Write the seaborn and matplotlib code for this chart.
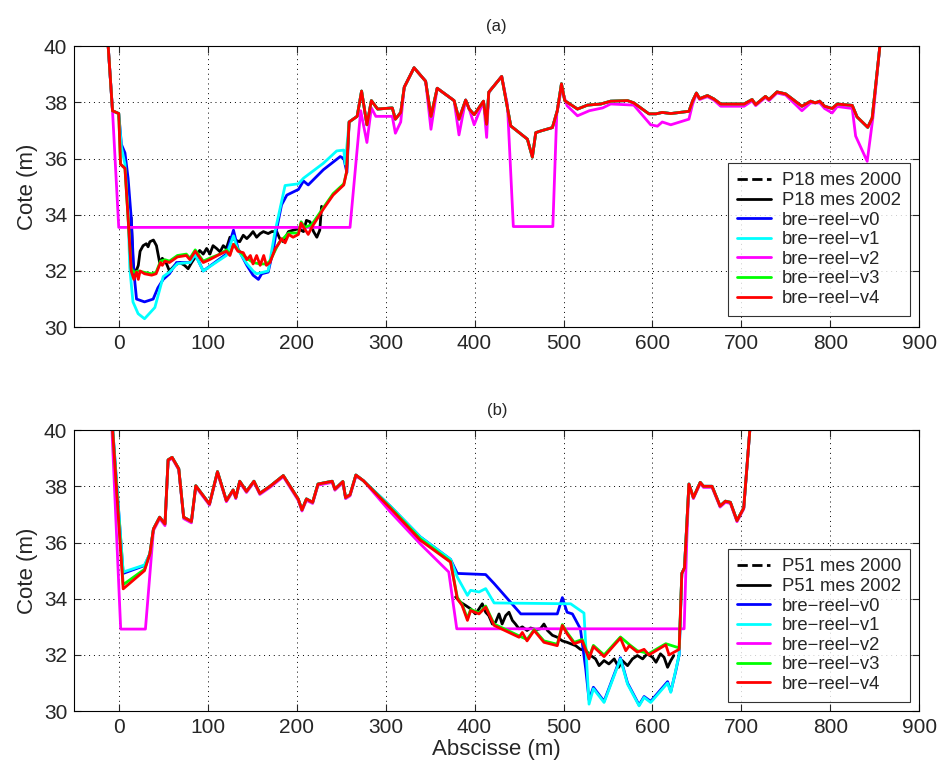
import matplotlib
matplotlib.use("Agg")
import matplotlib.pyplot as plt
import seaborn as sns

# ---------------- panel (a) : profil P18 ----------------
a_mes2002_x = [14, 16, 18, 22, 24, 27.4, 31, 33, 35, 39, 42.4, 46, 49, 53.7, 57, 63, 68.7, 74, 78, 82,
               87.5, 91, 95, 98.8, 102.5, 106, 110, 114, 117.5, 121, 125, 130.7, 136, 140, 144, 147.6,
               151, 155, 159, 162.6, 168, 172, 177.6, 181, 185, 190.8, 196, 202, 207.7, 211, 215, 219,
               222.7, 226, 228]
a_mes2002_y = [33.9, 32.3, 31.85, 32.2, 32.7, 32.9, 32.97, 32.86, 33.04, 33.1, 32.9, 32.3, 32.45, 32.26,
               32.0, 32.2, 32.3, 32.2, 32.08, 32.3, 32.56, 32.73, 32.6, 32.8, 32.6, 32.9, 32.8, 32.68,
               32.9, 32.8, 33.2, 33.1, 33.04, 33.27, 33.15, 33.27, 33.4, 33.2, 33.33, 33.4, 33.33, 33.4,
               33.4, 33.15, 33.04, 33.4, 33.45, 33.5, 33.4, 33.8, 33.75, 33.4, 33.2, 33.45, 34.3]

# right-hand part shared by v0, v1, v3, v4
a_right_x = [259, 268, 273, 279, 284, 291, 307.5, 311, 317, 321, 332, 345, 351, 358, 377, 382.5, 390,
             394, 399.6, 410, 413.6, 416, 430.5, 440.7, 459.4, 465, 468.8, 474.4, 487.5, 493, 497.7,
             501.4, 515.7, 527, 542, 553, 572, 579, 596, 604, 611, 620.6, 641, 645, 649.4, 653, 661.8,
             669, 676.7, 703, 712, 716, 727, 731, 740, 749.7, 768, 777.8, 783, 788, 793.5, 802, 807.7,
             824.6, 830, 842, 847, 855, 860]
a_right_y = [37.3, 37.5, 38.4, 37.2, 38.06, 37.76, 37.8, 37.4, 37.64, 38.54, 39.23, 38.75, 37.5, 38.5,
             38.06, 37.4, 38.08, 37.76, 37.56, 38.04, 37.22, 38.36, 38.92, 37.16, 36.69, 36.05, 36.92,
             36.98, 37.1, 37.7, 38.66, 38.06, 37.76, 37.9, 37.94, 38.04, 38.06, 37.98, 37.59, 37.59,
             37.64, 37.6, 37.68, 38.04, 38.33, 38.13, 38.24, 38.12, 37.94, 37.94, 38.1, 37.92, 38.21,
             38.1, 38.37, 38.3, 37.86, 38.04, 37.98, 38.04, 37.86, 37.78, 37.94, 37.89, 37.48, 37.11,
             37.44, 39.8, 41.5]

a_v0_x = [-14, -7, 0, 3, 7, 10.5, 14, 17, 20, 29, 38.7, 44, 50, 57, 65, 80, 86, 95, 121, 129, 134, 144,
          151, 157, 160.7, 168, 174, 177.6, 183, 189, 202, 207.7, 213, 230, 249, 253, 256.5]
a_v0_y = [41, 37.7, 37.6, 36.5, 36.2, 35.3, 33.9, 31.96, 31.0, 30.9, 31.0, 31.4, 31.7, 31.9, 32.3, 32.3,
          32.6, 32.0, 32.6, 33.45, 32.8, 32.2, 31.85, 31.7, 31.9, 31.96, 32.8, 33.5, 34.35, 34.7, 34.9,
          35.2, 35.06, 35.6, 36.07, 36.0, 35.5]

a_v1_x = [-14, -7, 0, 3, 7, 10.5, 12.4, 16, 21.8, 29, 40.6, 50, 57, 66, 80, 86, 95, 121, 129, 134, 144,
          151, 155, 168, 175.7, 187, 202, 207.7, 230, 245, 253, 254.6]
a_v1_y = [41, 37.7, 37.6, 36.4, 35.8, 34.0, 32.1, 30.9, 30.48, 30.3, 30.7, 31.8, 31.96, 32.26, 32.3,
          32.58, 32.0, 32.55, 33.25, 32.75, 32.26, 32.0, 31.9, 32.0, 33.4, 35.04, 35.1, 35.3, 35.83,
          36.27, 36.3, 35.8]

a_v2_x = [-14, -7, 0, 260, 272, 279, 284, 289, 307.5, 311, 317, 321, 332, 345, 351, 358, 377, 382.5,
          390, 394, 399.6, 410, 413.6, 416, 430.5, 437, 443.6, 488, 492.4, 497.7, 504, 515.7, 529, 544,
          553, 579, 598, 605.6, 611, 620.6, 641, 645, 649.4, 653, 661.8, 669, 676.7, 703, 712, 716,
          727, 731, 740, 749.7, 768, 777.8, 788, 793.5, 802, 807.7, 824.6, 828.4, 841.4, 848, 855, 860]
a_v2_y = [41, 37.7, 33.55, 33.55, 37.7, 36.57, 37.8, 37.5, 37.5, 36.9, 37.3, 38.54, 39.23, 38.75, 37.04,
          38.5, 38.06, 36.84, 38.08, 37.76, 37.2, 38.04, 36.75, 38.36, 38.92, 37.9, 33.58, 33.58, 37.58,
          38.5, 37.88, 37.52, 37.7, 37.8, 37.94, 37.9, 37.2, 37.15, 37.3, 37.2, 37.4, 37.92, 38.3, 38.1,
          38.2, 38.08, 37.86, 37.86, 38.05, 37.88, 38.17, 38.06, 38.33, 38.26, 37.7, 37.98, 37.98,
          37.78, 37.62, 37.85, 37.78, 36.8, 35.9, 37.5, 39.8, 41.5]

a_v3_x = [-14, -7, 0, 2, 7, 10.5, 14, 17, 22, 29, 37, 42, 47, 52, 57, 66, 76, 80, 86, 95, 102, 114, 121,
          125, 129, 134, 144, 151, 159, 166, 170, 180, 191, 202, 205, 209, 217, 230, 241, 253, 256]
a_v3_y = [41, 37.7, 37.6, 35.8, 35.65, 33.9, 32.1, 31.95, 32.0, 31.95, 31.9, 31.95, 32.35, 32.4, 32.35,
          32.55, 32.6, 32.45, 32.75, 32.35, 32.45, 32.6, 32.75, 32.6, 32.95, 32.75, 32.45, 32.3, 32.25,
          32.25, 32.35, 33.0, 33.35, 33.35, 33.75, 33.55, 33.65, 34.25, 34.75, 35.1, 35.5]

a_v4_x = [-14, -7, 0, 2, 7, 10.5, 14, 17, 20, 22, 24, 29, 37, 42, 47, 49, 52, 57, 66, 76, 80, 86, 95,
          102, 114, 121, 125, 129, 134, 140, 144, 148, 151, 155, 159, 163, 166, 170, 176, 180, 183, 187,
          191, 196, 202, 205, 209, 213, 217, 230, 241, 253, 256]
a_v4_y = [41, 37.7, 37.6, 35.8, 35.65, 33.9, 32.0, 31.7, 31.96, 31.7, 32.0, 31.9, 31.85, 31.9, 32.3,
          32.2, 32.35, 32.3, 32.5, 32.55, 32.4, 32.7, 32.3, 32.4, 32.6, 32.7, 32.55, 32.95, 32.7, 32.65,
          32.4, 32.55, 32.25, 32.55, 32.2, 32.55, 32.2, 32.3, 32.8, 32.97, 33.15, 33.0, 33.3, 33.2,
          33.3, 33.7, 33.5, 33.3, 33.55, 34.2, 34.7, 35.06, 35.5]

# ---------------- panel (b) : profil P51 ----------------
b_mes2002_x = [378.7, 384, 390, 395.6, 401, 405, 408.7, 412.5, 416, 420, 423.7, 427.5, 431, 435, 438.7,
               442.5, 446, 450, 453.7, 459, 463, 468.7, 474, 478, 482, 487.5, 493, 498.7, 504, 508,
               513.7, 519, 525, 530.6, 536, 540, 545.6, 551, 557, 562, 566, 572, 577.5, 583, 589, 594,
               600, 604, 609, 613, 617, 620.6, 624]
b_mes2002_y = [34.06, 33.88, 33.76, 33.64, 33.46, 33.64, 33.82, 33.52, 33.4, 33.1, 33.17, 33.46, 33.1,
               33.4, 33.52, 33.23, 33.1, 32.93, 33.0, 32.87, 32.96, 32.9, 32.93, 33.1, 32.87, 32.7,
               32.63, 32.5, 32.45, 32.4, 32.33, 32.2, 32.15, 31.98, 31.86, 31.62, 31.8, 31.68, 31.86,
               31.56, 31.8, 31.62, 31.86, 31.98, 31.86, 32.04, 31.92, 31.74, 32.04, 31.92, 31.56, 31.8,
               31.98]

# left part (x 35..275) and right part (x 633..712) shared by v0, v1, v3, v4
b_left_x = [35, 39, 46, 52, 55.5, 60, 67.5, 73, 81.7, 86.6, 102, 111, 121, 128.6, 131.6, 136, 143.6,
            152, 158.6, 170, 185, 201.7, 206, 211, 218, 224, 240, 243, 252, 255, 260, 266.6, 275]
b_left_y = [35.6, 36.48, 36.9, 36.66, 38.94, 39.03, 38.62, 36.9, 36.75, 38.02, 37.37, 38.52, 37.49,
            37.87, 37.6, 38.18, 37.82, 38.18, 37.75, 38.0, 38.38, 37.55, 37.16, 37.55, 37.43, 38.08,
            38.18, 37.9, 38.17, 37.6, 37.7, 38.4, 38.2]
b_right_x = [633, 636, 641, 646, 653.7, 657.4, 667, 676, 682, 687.6, 695, 702.6, 709.4, 712]
b_right_y = [34.9, 35.1, 38.08, 37.6, 38.14, 38.0, 38.0, 37.3, 37.47, 37.43, 36.78, 37.23, 39.98, 41]

b_v0_x = [-9, 5, 29, 305, 339, 373, 380.6, 412.5, 422, 452, 493, 498.7, 504, 510, 519, 525, 528.7,
          533.6, 545.6, 564, 572, 585, 590.6, 598, 617, 620.6, 626, 630]
b_v0_y = [41, 34.9, 35.18, 37.3, 36.2, 35.4, 34.9, 34.86, 34.54, 33.46, 33.46, 34.04, 33.52, 33.46,
          32.93, 31.5, 30.4, 30.85, 30.35, 31.9, 31.0, 30.22, 30.52, 30.35, 31.05, 30.7, 31.4, 32.0]

b_v1_x = [-9, 5, 29, 305, 339, 373, 380.6, 392, 395.6, 405, 412.5, 422, 508, 523, 528.7, 533.6, 545.6,
          564, 572, 585, 590.6, 598, 617, 620.6, 630]
b_v1_y = [41, 34.95, 35.2, 37.3, 36.2, 35.4, 34.77, 34.12, 34.3, 34.24, 34.36, 33.85, 33.82, 33.49,
          30.25, 30.8, 30.31, 31.86, 30.96, 30.19, 30.49, 30.31, 31.0, 30.67, 32.0]

b_v2_x = [-9, 2.2, 30, 39, 46, 52, 55.5, 60, 67.5, 73, 81.7, 86.6, 102, 111, 121, 128.6, 131.6, 136,
          143.6, 152, 158.6, 170, 185, 201.7, 206, 211, 218, 224, 240, 243, 252, 255, 260, 266.6, 275,
          305, 339, 371, 380, 635.6, 638.6, 641, 646, 653.7, 657.4, 667, 676, 682, 687.6, 695, 702.6,
          709.4, 712]
b_v2_y = [41, 32.92, 32.92, 36.42, 36.85, 36.6, 38.9, 39.0, 38.58, 36.85, 36.7, 37.98, 37.33, 38.48,
          37.45, 37.83, 37.56, 38.14, 37.78, 38.14, 37.71, 37.96, 38.34, 37.5, 37.12, 37.5, 37.39, 38.04,
          38.14, 37.86, 38.13, 37.56, 37.66, 38.36, 38.2, 37.1, 35.95, 34.95, 32.93, 32.93, 36.08, 38.05,
          37.56, 38.1, 37.96, 37.96, 37.26, 37.43, 37.39, 36.74, 37.19, 39.98, 41]

b_v3_x = [-9, 5, 29, 305, 339, 373, 380.6, 386, 392, 395.6, 405, 412.5, 422, 450, 459, 467, 478, 493,
          498.7, 504, 512, 521, 528.7, 533.6, 545.6, 564, 574, 583, 596, 615, 630]
b_v3_y = [41, 34.5, 35.05, 37.26, 36.13, 35.33, 34.05, 33.8, 33.3, 33.62, 33.5, 33.74, 33.1, 32.68,
          32.55, 32.9, 32.5, 32.38, 33.08, 32.8, 32.45, 32.55, 31.92, 32.34, 32.0, 32.64, 32.37, 32.15,
          32.05, 32.4, 32.25]

b_v4_x = [-9, 5, 29, 305, 339, 373, 380.6, 386, 392, 395.6, 405, 412.5, 422, 450, 453.7, 459, 467, 478,
          493, 498.7, 504, 512, 521, 528.7, 533.6, 545.6, 564, 570, 574, 583, 590.6, 596, 615, 618.7,
          630]
b_v4_y = [41, 34.35, 35.0, 37.23, 36.08, 35.3, 34.0, 33.76, 33.23, 33.58, 33.46, 33.7, 33.05, 32.63,
          32.8, 32.5, 32.87, 32.45, 32.33, 33.05, 32.75, 32.4, 32.5, 31.86, 32.3, 31.94, 32.6, 32.15,
          32.33, 32.1, 32.2, 32.0, 32.36, 32.0, 32.2]

model_labels = ["bre\u2212reel\u2212v0", "bre\u2212reel\u2212v1", "bre\u2212reel\u2212v2",
                "bre\u2212reel\u2212v3", "bre\u2212reel\u2212v4"]
model_colors = ["#0000ff", "#00ffff", "#ff00ff", "#00ff00", "#ff0000"]


def full_a(xs, ys):
    # left part specific to each version + shared right part
    return xs + a_right_x, ys + a_right_y


def full_b(xs, ys):
    # first 3 points, shared left part, rest of the version, shared right part
    return (xs[:3] + b_left_x + xs[3:] + b_right_x,
            ys[:3] + b_left_y + ys[3:] + b_right_y)


sns.set_style("ticks")
plt.rcParams["font.family"] = ["Liberation Sans", "DejaVu Sans"]

fig, axes = plt.subplots(2, 1, figsize=(9.4, 7.68), dpi=100)
fig.subplots_adjust(left=0.079, right=0.978, top=0.94, bottom=0.074, hspace=0.366)

panels = [
    ("(a)", "P18", a_mes2002_x, a_mes2002_y,
     [full_a(a_v0_x, a_v0_y), full_a(a_v1_x, a_v1_y), (a_v2_x, a_v2_y),
      full_a(a_v3_x, a_v3_y), full_a(a_v4_x, a_v4_y)], 0.039),
    ("(b)", "P51", b_mes2002_x, b_mes2002_y,
     [full_b(b_v0_x, b_v0_y), full_b(b_v1_x, b_v1_y), (b_v2_x, b_v2_y),
      full_b(b_v3_x, b_v3_y), full_b(b_v4_x, b_v4_y)], 0.032),
]

for ax, (title, prof, mx, my, models, leg_y) in zip(axes, panels):
    # the 2000 survey is only in the legend
    ax.plot([], [], color="k", ls="--", lw=2, label=f"{prof} mes 2000")
    sns.lineplot(x=mx, y=my, ax=ax, color="k", lw=2, sort=False, estimator=None,
                 label=f"{prof} mes 2002")
    for (xs, ys), lab, col in zip(models, model_labels, model_colors):
        sns.lineplot(x=xs, y=ys, ax=ax, color=col, lw=2, sort=False, estimator=None, label=lab)

    ax.set_xlim(-50, 900)
    ax.set_ylim(30, 40)
    ax.set_xticks(range(0, 901, 100))
    ax.set_yticks(range(30, 41, 2))
    ax.grid(True, color="k", ls=(0, (1, 4)), lw=0.7)
    ax.tick_params(direction="in", length=5, top=True, right=True, labelsize=15, width=0.8, pad=5)
    for sp in ax.spines.values():
        sp.set_linewidth(0.8)
        sp.set_color("k")
    ax.set_title(title, fontsize=12, pad=11)
    ax.set_ylabel("Cote (m)", fontsize=16, labelpad=4)
    ax.set_xlabel("")
    leg = ax.legend(loc="lower right", bbox_to_anchor=(0.989, leg_y), borderaxespad=0,
                    fontsize=13.3, frameon=True, fancybox=False, edgecolor="k",
                    handlelength=1.8, handletextpad=0.6, labelspacing=0.14, borderpad=0.5)
    leg.get_frame().set_linewidth(0.8)

axes[1].set_xlabel("Abscisse (m)", fontsize=16, labelpad=1)

fig.savefig("out.png", dpi=100)
